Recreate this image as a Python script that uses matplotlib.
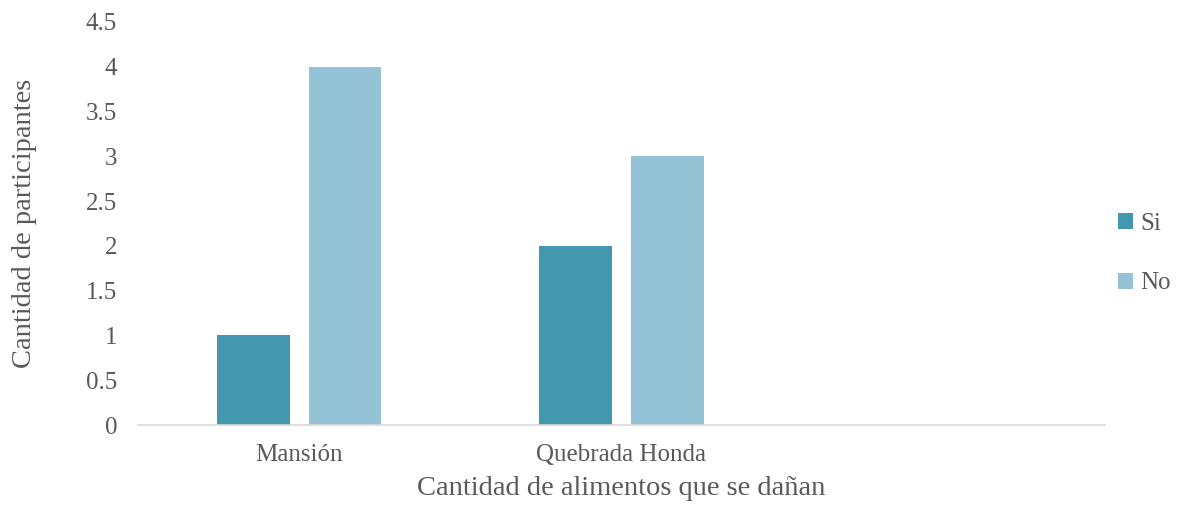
import numpy as np
import matplotlib
matplotlib.use("Agg")
from matplotlib import pyplot as plt

categories = ["Mansión", "Quebrada Honda", ""]
si_values = [1, 2, 0]
no_values = [4, 3, 0]
series_names = ["Si", "No"]
y_ticks = [0, 0.5, 1, 1.5, 2, 2.5, 3, 3.5, 4, 4.5]

text_color = "#595959"
plt.rcParams["font.family"] = ["Liberation Serif", "DejaVu Serif"]

fig = plt.figure(figsize=(11.78, 5.08), dpi=100)
ax = fig.add_axes([138 / 1178, 83 / 508, 967 / 1178, 403 / 508])

x = np.arange(len(categories))
width = 0.226
offset = 0.142
# la tercera categoria esta vacia en el original
ax.bar(x[:2] - offset, si_values[:2], width, color="#4397AE", label=series_names[0])
ax.bar(x[:2] + offset, no_values[:2], width, color="#93C3D4", label=series_names[1])

ax.set_xlim(-0.5, len(categories) - 0.5)
ax.set_ylim(0, 4.5)
ax.set_yticks(y_ticks)
ax.set_yticklabels([f"{t:g}" for t in y_ticks])
ax.set_xticks(x)
ax.set_xticklabels(categories)

for s in ["top", "right", "left"]:
    ax.spines[s].set_visible(False)
ax.spines["bottom"].set_color("#D9D9D9")
ax.spines["bottom"].set_linewidth(1.2)
ax.tick_params(axis="both", length=0, colors=text_color, labelsize=18)
ax.tick_params(axis="y", pad=15)
ax.tick_params(axis="x", pad=14)

ax.set_xlabel("Cantidad de alimentos que se dañan", fontsize=20.5, color=text_color, labelpad=7)
ax.set_ylabel("Cantidad de participantes", fontsize=20.5, color=text_color, labelpad=35)

ax.legend(loc="center left", bbox_to_anchor=(0.99, 0.425), frameon=False,
          fontsize=18, labelcolor=text_color, handlelength=0.6, handleheight=0.6,
          handletextpad=0.3, labelspacing=1.5)

fig.savefig("out.png", dpi=100)
